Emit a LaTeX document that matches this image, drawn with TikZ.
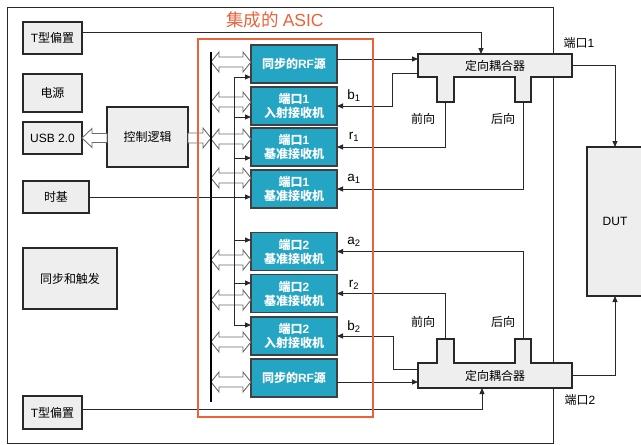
\documentclass[tikz,border=0pt]{standalone}
\usepackage{fontspec}
\setmainfont{Noto Sans CJK SC}
\newfontfamily\lat{Liberation Sans}
\usetikzlibrary{arrows.meta,calc}
\definecolor{asicred}{RGB}{233,98,58}
\definecolor{tealb}{RGB}{36,165,196}
\definecolor{boxgray}{RGB}{238,238,238}
\definecolor{linecol}{RGB}{40,40,40}
\definecolor{hollowcol}{RGB}{110,110,110}
\pgfdeclarelayer{bg}
\pgfsetlayers{bg,main}
\tikzset{
  pics/dblarr/.style={code={\draw[hollow] (0,0) -- (8,-10) -- (8,-5) -- (32,-5) -- (32,-10) -- (40,0) -- (32,10) -- (32,5) -- (8,5) -- (8,10) -- cycle;}},
  hollow/.style={draw=hollowcol,fill=white,line width=0.9pt,line join=miter},
  graybox/.style={draw=linecol,fill=boxgray,line width=1.3pt,inner sep=0pt,outer sep=0pt},
  tealbox/.style={draw=black!75,fill=tealb,line width=1.3pt,inner sep=0pt,outer sep=0pt,
    minimum width=86pt,minimum height=38pt,text=white,align=center,font=\fontsize{12}{14}\selectfont\bfseries},
  cpart/.style={inner sep=0pt,outer sep=0pt},
  coupler/.style={draw=linecol,fill=boxgray,line width=1.3pt},
  arr/.style={draw=linecol,line width=0.9pt,-{Triangle[length=6pt,width=5pt]}},
  ln/.style={draw=linecol,line width=0.9pt},
  lbl/.style={inner sep=0pt,font=\fontsize{12}{14}\selectfont},
  sublbl/.style={inner sep=0pt,font=\fontsize{13.5}{15}\selectfont},
}
\begin{document}
\begin{tikzpicture}[x=1pt,y=-1pt,font=\fontsize{12}{14}\selectfont]
\useasboundingbox (0,0) rectangle (641,445);

% left boxes
\node[graybox,minimum width=59pt,minimum height=32pt] (tb1) at (52.5,38) {{\lat T}型偏置};
\node[graybox,minimum width=59pt,minimum height=38pt] (pwr) at (52.5,93) {电源};
\node[graybox,minimum width=59pt,minimum height=32pt] (usb) at (52.5,138) {\lat USB 2.0};
\node[graybox,minimum width=81pt,minimum height=60pt] (ctl) at (147.5,137) {控制逻辑};
\node[graybox,minimum width=66pt,minimum height=32pt] (clk) at (56,197) {时基};
\node[graybox,minimum width=94pt,minimum height=61pt] (sync) at (70,278.5) {同步和触发};
\node[graybox,minimum width=59pt,minimum height=33pt] (tb2) at (52.5,412.5) {{\lat T}型偏置};

% ASIC blocks
\node[tealbox] (rf1) at (294,64) {同步的{\lat\bfseries RF}源};
\node[tealbox] (p1b) at (294,106) {端口{\lat\bfseries 1}\\入射接收机};
\node[tealbox] (p1r) at (294,147) {端口{\lat\bfseries 1}\\基准接收机};
\node[tealbox] (p1a) at (294,189) {端口{\lat\bfseries 1}\\基准接收机};
\node[tealbox] (p2a) at (294,251.5) {端口{\lat\bfseries 2}\\基准接收机};
\node[tealbox] (p2r) at (294,293.5) {端口{\lat\bfseries 2}\\基准接收机};
\node[tealbox] (p2b) at (294,336) {端口{\lat\bfseries 2}\\入射接收机};
\node[tealbox] (rf2) at (294,378) {同步的{\lat\bfseries RF}源};

% couplers (parts)
\node[cpart,minimum width=154pt,minimum height=23pt] (cp1) at (495,65.5) {定向耦合器};
\node[cpart,minimum width=17pt,minimum height=25pt] (cp1l) at (445.5,89.5) {};
\node[cpart,minimum width=16pt,minimum height=25pt] (cp1r) at (523,89.5) {};
\node[cpart,minimum width=154pt,minimum height=25pt] (cp2) at (495,375.5) {定向耦合器};
\node[cpart,minimum width=17pt,minimum height=24pt] (cp2l) at (445.5,351) {};
\node[cpart,minimum width=16pt,minimum height=24pt] (cp2r) at (523,351) {};

% DUT
\node[graybox,minimum width=56pt,minimum height=149pt] (dut) at (615,221.5) {\lat DUT};

\begin{pgfonlayer}{bg}
  \draw[draw=linecol,line width=1pt] (7,7) rectangle (553,443);
  \draw[coupler] (cp1.north west) -- (cp1.north east) -- (cp1.south east) -- (cp1r.north east) -- (cp1r.south east) -- (cp1r.south west) -- (cp1r.north west) -- (cp1l.north east) -- (cp1l.south east) -- (cp1l.south west) -- (cp1l.north west) -- (cp1.south west) -- cycle;
  \draw[coupler] (cp2.south west) -- (cp2.north west) -- (cp2l.south west) -- (cp2l.north west) -- (cp2l.north east) -- (cp2l.south east) -- (cp2r.south west) -- (cp2r.north west) -- (cp2r.north east) -- (cp2r.south east) -- (cp2.north east) -- (cp2.south east) -- cycle;
\end{pgfonlayer}

% labels
\node[sublbl] (lb1) at (354,96) {\lat b\textsubscript{1}};
\node[sublbl] (lr1) at (354,137) {\lat r\textsubscript{1}};
\node[sublbl] (la1) at (354,179) {\lat a\textsubscript{1}};
\node[sublbl] (la2) at (354,242) {\lat a\textsubscript{2}};
\node[sublbl] (lr2) at (354,285) {\lat r\textsubscript{2}};
\node[sublbl] (lb2) at (354,327) {\lat b\textsubscript{2}};
\node[lbl] (fw1) at (423,119) {前向};
\node[lbl] (bw1) at (503,119) {后向};
\node[lbl] (fw2) at (423,322) {前向};
\node[lbl] (bw2) at (503,322) {后向};
\node[lbl] (port1) at (579,43) {端口{\lat 1}};
\node[lbl] (port2) at (580,400) {端口{\lat 2}};
\node[text=asicred,inner sep=0pt,font=\fontsize{17.5}{20}\selectfont] (title) at (275,20) {集成的 {\lat ASIC}};

% hollow arrows USB / control logic
\draw[hollow] (usb.east |- 0,138) -- (92,128.5) -- (92,133.5) -- (ctl.west |- 0,133.5) -- (ctl.west |- 0,142.5) -- (92,142.5) -- (92,147.5) -- cycle;
\draw[hollow] (ctl.east |- 0,133) -- (203,133) -- (203,128) -- (211,138) -- (203,148) -- (203,143) -- (ctl.east |- 0,143) -- cycle;

% bus double arrows
\foreach \yy in {62,102,139,178,260,300,342,382}{\pic at (211,\yy) {dblarr};}

% bus
\coordinate (busT) at (211,52);
\coordinate (busB) at (211,402);
\draw[draw=black,line width=2pt] (busT) -- (busB);

% clock distribution
\coordinate (ck1) at (234,77);
\coordinate (ck2) at (234,117);
\coordinate (ck3) at (234,158);
\coordinate (ck5) at (234,240);
\coordinate (ck6) at (234,283);
\coordinate (ck7) at (234,325);
\draw[ln] (ck1) -- (ck7);
\draw[arr] (ck1) -- (ck1 -| rf1.west);
\draw[arr] (ck2) -- (ck2 -| p1b.west);
\draw[arr] (ck3) -- (ck3 -| p1r.west);
\draw[arr] (ck5) -- (ck5 -| p2a.west);
\draw[arr] (ck6) -- (ck6 -| p2r.west);
\draw[arr] (ck7) -- (ck7 -| p2b.west);
\draw[arr] (clk.east) -- (clk.east -| p1a.west);

% T bias
\draw[arr] ([yshift=6pt]tb1.east) -| (cp1.north -| 481,0);
\draw[arr] ([yshift=3.5pt]tb2.east) -| (cp2.south -| 482,0);

% RF paths
\draw[arr] (rf1.east |- 0,59) -- (cp1.west |- 0,59);
\draw[arr] (cp1.west |- 0,73) -- (392,73) |- (p1b.east);
\draw[arr] (cp1l.south) |- (p1r.east);
\draw[arr] (cp1r.south) |- (p1a.east);
\draw[arr] (cp1.east) -| (dut.north);
\draw[arr] (cp2r.north) |- (p2a.east);
\draw[arr] (cp2l.north) |- (p2r.east);
\draw[arr] (cp2.west |- 0,369) -- (393,369) |- (p2b.east);
\draw[arr] (rf2.east |- 0,382) -- (cp2.west |- 0,382);
\draw[arr] (cp2.east) -| (dut.south);

% ASIC frame
\draw[draw=asicred,line width=2pt] (198,39) rectangle (373,417);
\end{tikzpicture}
\end{document}
